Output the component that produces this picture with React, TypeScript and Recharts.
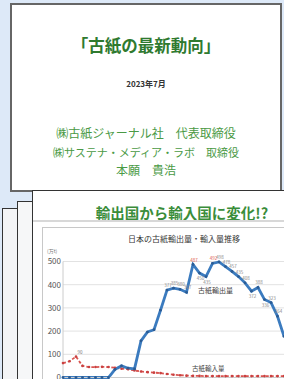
import { CartesianGrid, LabelList, Line, LineChart, XAxis, YAxis } from "recharts";

// 年次（x軸カテゴリ）
const years = [
  "1988", "1989", "1990", "1991", "1992", "1993", "1994", "1995", "1996",
  "1997", "1998", "1999", "2000", "2001", "2002", "2003", "2004", "2005",
  "2006", "2007", "2008", "2009", "2010", "2011", "2012", "2013", "2014",
  "2015", "2016", "2017", "2018", "2019", "2020", "2021", "2022",
];

// 古紙輸出量（万t）
const exportVals = [
  0, 0, 0, 0, 0, 0, 0, 0, 35, 50, 40, 37, 158, 196, 206, 290, 377, 385,
  380, 367, 487, 450, 435, 492, 498, 478, 457, 435, 408, 372, 388, 336,
  323, 264, 177,
];

// 古紙輸入量（万t）
const importVals = [
  62, 70, 90, 50, 45, 45, 46, 45, 42, 38, 36, 30, 26, 23, 21, 19, 15, 12,
  10, 8, 7, 7, 6, 6, 6, 6, 6, 6, 6, 6, 6, 6, 6, 6, 6,
];

const yTicks = [0, 100, 200, 300, 400, 500];

const redLabelIdx = [20, 23];
const belowLabelIdx = [21, 22, 29, 31];

const data = years.map((year, i) => ({
  year,
  exp: exportVals[i],
  imp: importVals[i],
}));

const jp = '"Noto Sans CJK JP", "Noto Sans", sans-serif';

function ExportLabel(props: any) {
  const { x, y, value, index } = props;
  if (index < 16 || index > 33) return null;
  const below = belowLabelIdx.includes(index);
  const red = redLabelIdx.includes(index);
  return (
    <text
      x={x + 1}
      y={below ? y + 7 : y - 3}
      fontSize={4.5}
      fill={red ? "#e05a4a" : "#888"}
      textAnchor="middle"
    >
      {value}
    </text>
  );
}

function ImportLabel(props: any) {
  const { x, y, value, index } = props;
  if (index !== 2) return null;
  return (
    <text x={x + 4} y={y - 3} fontSize={4.5} fill="#777" textAnchor="middle">
      {value}
    </text>
  );
}

const abs = (s: React.CSSProperties): React.CSSProperties => ({
  position: "absolute",
  boxSizing: "border-box",
  ...s,
});

export default function App() {
  return (
    <div
      style={{
        position: "fixed",
        left: 0,
        top: 0,
        width: 284,
        height: 379,
        overflow: "hidden",
        background: "#dde9f8",
        fontFamily: jp,
      }}
    >
      {/* 表紙スライド */}
      <div
        style={abs({
          left: 10,
          top: 3,
          width: 272,
          height: 189,
          background: "#fff",
          border: "2px solid #666",
        })}
      />
      <div
        style={abs({
          left: 10,
          top: 35,
          width: 272,
          textAlign: "center",
          fontSize: 16.5,
          fontWeight: 700,
          lineHeight: "20px",
          color: "#2f7a2f",
        })}
      >
        「古紙の最新動向」
      </div>
      <div
        style={abs({
          left: 10,
          top: 79,
          width: 272,
          textAlign: "center",
          fontSize: 8,
          fontWeight: 700,
          lineHeight: "10px",
          color: "#333",
        })}
      >
        2023年7月
      </div>
      <div
        style={abs({
          left: 10,
          top: 126,
          width: 272,
          textAlign: "center",
          fontSize: 12,
          lineHeight: "14px",
          color: "#4a9a45",
        })}
      >
        ㈱古紙ジャーナル社　代表取締役
      </div>
      <div
        style={abs({
          left: 10,
          top: 145,
          width: 272,
          textAlign: "center",
          fontSize: 11,
          lineHeight: "14px",
          color: "#4a9a45",
        })}
      >
        ㈱サステナ・メディア・ラボ　取締役
      </div>
      <div
        style={abs({
          left: 10,
          top: 163,
          width: 272,
          textAlign: "center",
          fontSize: 12,
          lineHeight: "14px",
          color: "#4a9a45",
        })}
      >
        本願　貴浩
      </div>

      {/* 重なったスライド */}
      <div
        style={abs({
          left: 2,
          top: 208,
          width: 400,
          height: 300,
          background: "#f3f4f6",
          border: "1.5px solid #333",
        })}
      />
      <div
        style={abs({
          left: 17,
          top: 201,
          width: 400,
          height: 300,
          background: "#f6f7f8",
          border: "1.5px solid #333",
        })}
      />
      <div
        style={abs({
          left: 32,
          top: 190,
          width: 400,
          height: 300,
          background: "#fff",
          border: "1.5px solid #333",
        })}
      />
      <div
        style={abs({
          left: 32,
          top: 204,
          width: 300,
          textAlign: "center",
          fontSize: 14.5,
          fontWeight: 700,
          lineHeight: "18px",
          color: "#3a8d3a",
        })}
      >
        輸出国から輸入国に変化!?
      </div>
      <div
        style={abs({
          left: 33,
          top: 220,
          width: 300,
          borderTop: "2px solid #d8d8d8",
        })}
      />
      <div
        style={abs({
          left: 42,
          top: 227,
          width: 300,
          height: 200,
          border: "1px solid #c8c8c8",
        })}
      />
      <div
        style={abs({
          left: 42,
          top: 234,
          width: 284,
          textAlign: "center",
          fontSize: 8,
          lineHeight: "10px",
          color: "#333",
        })}
      >
        日本の古紙輸出量・輸入量推移
      </div>
      <div
        style={abs({
          left: 47,
          top: 248,
          fontSize: 5,
          lineHeight: "6px",
          color: "#777",
        })}
      >
        (万t)
      </div>

      <div style={abs({ left: 42, top: 227 })}>
        <LineChart
          width={252}
          height={176}
          data={data}
          margin={{ top: 34.5, right: 10, left: 0, bottom: 5.5 }}
        >
          <CartesianGrid vertical={false} stroke="#e2e2e2" />
          <XAxis
            dataKey="year"
            height={20}
            tick={false}
            tickLine={false}
            axisLine={{ stroke: "#ccc" }}
          />
          <YAxis
            domain={[0, 500]}
            ticks={yTicks}
            width={21}
            tickSize={0}
            tickMargin={2}
            tickLine={false}
            axisLine={{ stroke: "#ccc" }}
            tick={{ fontSize: 8, fill: "#555" }}
          />
          <Line
            type="linear"
            dataKey="imp"
            name="古紙輸入量"
            stroke="#d9534f"
            strokeWidth={1.8}
            strokeDasharray="3 2"
            dot={{ r: 1.3, fill: "#c94040", stroke: "none" }}
            isAnimationActive={false}
          >
            <LabelList dataKey="imp" content={ImportLabel} />
          </Line>
          <Line
            type="linear"
            dataKey="exp"
            name="古紙輸出量"
            stroke="#3b7bbf"
            strokeWidth={2.8}
            dot={{ r: 1.4, fill: "#2b5c94", stroke: "none" }}
            isAnimationActive={false}
          >
            <LabelList dataKey="exp" content={ExportLabel} />
          </Line>
        </LineChart>
      </div>

      <div
        style={abs({
          left: 198,
          top: 286,
          fontSize: 7,
          lineHeight: "8px",
          color: "#444",
        })}
      >
        古紙輸出量
      </div>
      <div
        style={abs({
          left: 192,
          top: 364,
          fontSize: 6.5,
          lineHeight: "8px",
          color: "#444",
        })}
      >
        古紙輸入量
      </div>
    </div>
  );
}
